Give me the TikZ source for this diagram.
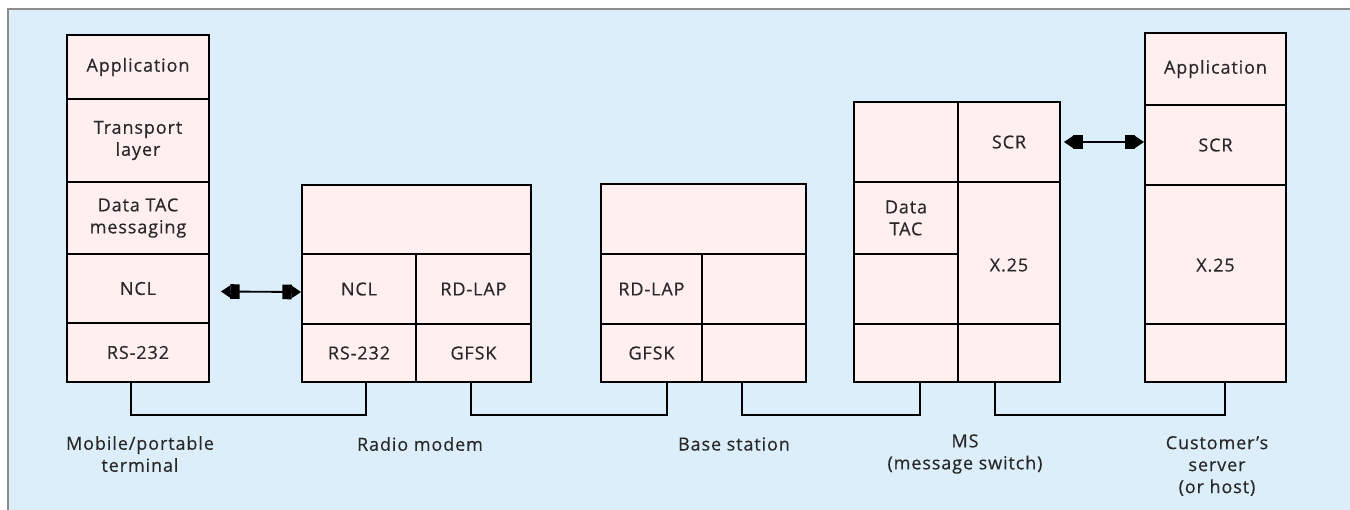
\documentclass[tikz,border=0pt]{standalone}
\usepackage{fontspec}
\setmainfont{Open Sans}[LetterSpace=5,FakeBold=0.4]
\usetikzlibrary{arrows.meta}
\definecolor{bgblue}{RGB}{220,238,250}
\definecolor{cellpink}{RGB}{255,239,239}
\definecolor{txtgray}{RGB}{40,40,40}
\definecolor{framegray}{RGB}{140,140,140}
\newcommand\lblfont{\fontsize{13.5}{16.5}\selectfont}
\tikzset{
  layercell/.style={draw=black, line width=1.4pt, fill=cellpink, inner sep=0pt,
    align=center, text=txtgray, font=\lblfont},
  celltext/.style={inner sep=0pt, align=center, text=txtgray, font=\lblfont},
  connwire/.style={line width=1.2pt},
  blk/.tip={Rectangle[length=7pt,width=11pt,sep=0pt] Triangle[length=7pt,width=9pt,sep=0pt]},
  peerlink/.style={line width=1.4pt, {blk}-{blk}},
  stationname/.style={inner sep=0pt, align=center, text=txtgray, font=\lblfont}
}
\newcommand\cellbox[6]{\node[layercell, minimum width={(#4-#2)*0.75pt},
  minimum height={(#5-#3)*0.75pt}] (#1) at ({(#2+#4)/2},{(#3+#5)/2}) {#6};}
\begin{document}
\begin{tikzpicture}[x=0.75pt,y=-0.75pt]
\useasboundingbox (0,0) rectangle (1350,510);
\fill[bgblue] (8,9) rectangle (1350,510);
\draw[framegray, line width=1.1pt] (8,510) -- (8,9) -- (1350,9);
% mobile terminal
\cellbox{mapp}{67}{35}{209}{99}{Application}
\cellbox{mtrans}{67}{99}{209}{182}{Transport\\layer}
\cellbox{mdtac}{67}{182}{209}{254}{Data TAC\\messaging}
\cellbox{mncl}{67}{254}{209}{323}{NCL}
\cellbox{mrs}{67}{323}{209}{382}{RS-232}
% radio modem
\cellbox{rtop}{302}{185}{531}{254}{}
\cellbox{rncl}{302}{254}{416}{324}{NCL}
\cellbox{rrdlap}{416}{254}{531}{324}{RD-LAP}
\cellbox{rrs}{302}{324}{416}{382}{RS-232}
\cellbox{rgfsk}{416}{324}{531}{382}{GFSK}
% base station
\cellbox{btop}{601}{184}{806}{254}{}
\cellbox{brdlap}{601}{254}{702}{324}{RD-LAP}
\cellbox{bright}{702}{254}{806}{324}{}
\cellbox{bgfsk}{601}{324}{702}{382}{GFSK}
\cellbox{bphys}{702}{324}{806}{382}{}
% message switch
\cellbox{sl1}{854}{102}{958}{182}{}
\cellbox{sscr}{958}{102}{1060}{182}{SCR}
\cellbox{sdtac}{854}{182}{958}{254}{Data\\TAC}
\cellbox{sl3}{854}{254}{958}{324}{}
\cellbox{sx25}{958}{182}{1060}{324}{}
\cellbox{sl4}{854}{324}{958}{382}{}
\cellbox{sr4}{958}{324}{1060}{382}{}
\node[celltext] (sx25t) at ([yshift=-9pt]sx25.center) {X.25};
% customer's server
\cellbox{capp}{1145}{33}{1286}{105}{Application}
\cellbox{cscr}{1145}{105}{1286}{185}{SCR}
\cellbox{cx25}{1145}{185}{1286}{324}{}
\cellbox{cphys}{1145}{324}{1286}{382}{}
\node[celltext] (cx25t) at ([yshift=-8pt]cx25.center) {X.25};
% peer links
\draw[peerlink] ([xshift=8.25pt,yshift=-2.25pt]mncl.east) -- ([yshift=-2.25pt]rncl.west);
\draw[peerlink] ([xshift=2.25pt]sscr.east) -- (sscr.east -| cscr.west);
% physical links
\draw[connwire] ([xshift=-5.25pt]mrs.south) -- ++(0,32) -| ([xshift=5.25pt]rrs.south);
\draw[connwire] ([xshift=-1.875pt]rgfsk.south) -- ++(0,32) -| ([xshift=11.6pt]bgfsk.south);
\draw[connwire] ([xshift=-9pt]bphys.south) -- ++(0,32) -| ([xshift=10.5pt]sl4.south);
\draw[connwire] ([xshift=-10.5pt]sr4.south) -- ++(0,32) -| ([xshift=7.1pt]cphys.south);
% station names
\node[stationname] (lmob) at (140,454) {Mobile/portable\\terminal};
\node[stationname] (lrad) at (420,444) {Radio modem};
\node[stationname] (lbase) at (734,444) {Base station};
\node[stationname] (lms) at (965,454) {MS\\(message switch)};
\node[stationname] (lcust) at (1217,466) {Customer's\\server\\(or host)};
\end{tikzpicture}
\end{document}
